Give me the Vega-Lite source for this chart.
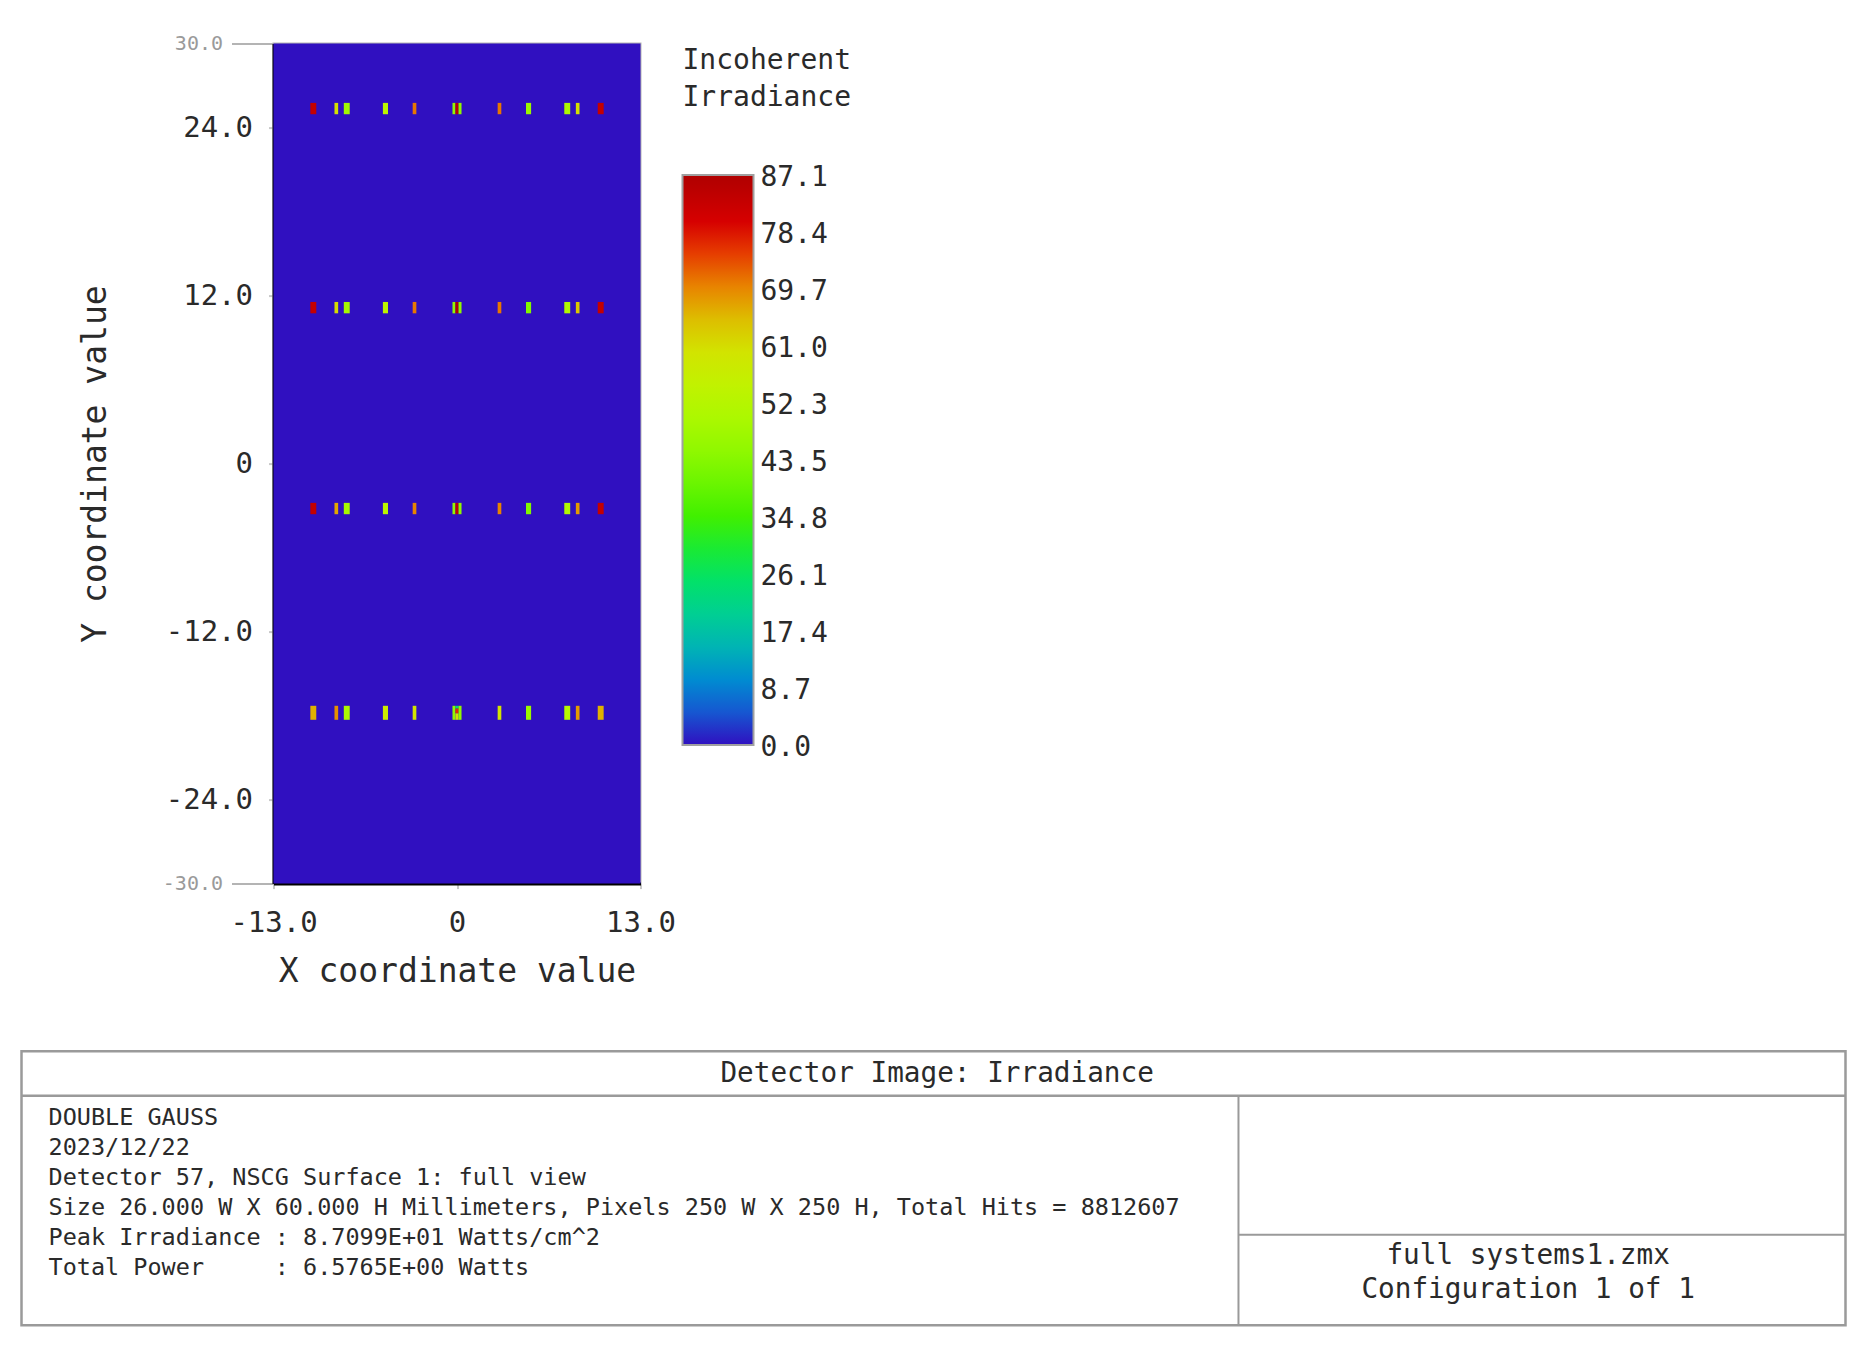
{
  "$schema": "https://vega.github.io/schema/vega-lite/v6.json",
  "background": "white",
  "padding": {"left": 18.5, "top": 32.6, "right": 10, "bottom": 10},
  "config": {"font": "DejaVu Sans Mono"},
  "spacing": 58.6,
  "resolve": {"legend": {"color": "independent"}},
  "vconcat": [
    {
      "spacing": 0,
      "resolve": {"legend": {"color": "independent"}},
      "hconcat": [
        {
          "width": 55.6,
          "height": 10,
          "view": {"stroke": null},
          "data": {"values": []},
          "mark": {"type": "point"}
        },
        {
          "width": 367,
          "height": 840,
          "view": {"stroke": "#b4b4b4", "strokeWidth": 2},
          "data": {"values": [
            {"x0": -13, "x1": 13, "y0": -30, "y1": 30, "irradiance": 0},
            {"x0": -10.39, "x1": -9.97, "y0": 24.955, "y1": 25.765, "irradiance": 83},
            {"x0": -8.68, "x1": -8.42, "y0": 24.955, "y1": 25.765, "irradiance": 61},
            {"x0": -8.02, "x1": -7.6, "y0": 24.955, "y1": 25.765, "irradiance": 48},
            {"x0": -5.25, "x1": -4.89, "y0": 24.955, "y1": 25.765, "irradiance": 53},
            {"x0": -3.14, "x1": -2.88, "y0": 24.955, "y1": 25.765, "irradiance": 71},
            {"x0": -0.32, "x1": -0.11, "y0": 24.955, "y1": 25.765, "irradiance": 45},
            {"x0": -0.11, "x1": 0.11, "y0": 24.955, "y1": 25.765, "irradiance": 85},
            {"x0": 0.11, "x1": 0.32, "y0": 24.955, "y1": 25.765, "irradiance": 45},
            {"x0": 2.88, "x1": 3.14, "y0": 24.955, "y1": 25.765, "irradiance": 71},
            {"x0": 4.89, "x1": 5.25, "y0": 24.955, "y1": 25.765, "irradiance": 47},
            {"x0": 7.6, "x1": 8.02, "y0": 24.955, "y1": 25.765, "irradiance": 50},
            {"x0": 8.42, "x1": 8.68, "y0": 24.955, "y1": 25.765, "irradiance": 61},
            {"x0": 9.97, "x1": 10.39, "y0": 24.955, "y1": 25.765, "irradiance": 83},
            {"x0": -10.39, "x1": -9.97, "y0": 10.735, "y1": 11.545, "irradiance": 83},
            {"x0": -8.68, "x1": -8.42, "y0": 10.735, "y1": 11.545, "irradiance": 62},
            {"x0": -8.02, "x1": -7.6, "y0": 10.735, "y1": 11.545, "irradiance": 49},
            {"x0": -5.25, "x1": -4.89, "y0": 10.735, "y1": 11.545, "irradiance": 54},
            {"x0": -3.14, "x1": -2.88, "y0": 10.735, "y1": 11.545, "irradiance": 71},
            {"x0": -0.32, "x1": -0.11, "y0": 10.735, "y1": 11.545, "irradiance": 45},
            {"x0": -0.11, "x1": 0.11, "y0": 10.735, "y1": 11.545, "irradiance": 87.1},
            {"x0": 0.11, "x1": 0.32, "y0": 10.735, "y1": 11.545, "irradiance": 45},
            {"x0": 2.88, "x1": 3.14, "y0": 10.735, "y1": 11.545, "irradiance": 71},
            {"x0": 4.89, "x1": 5.25, "y0": 10.735, "y1": 11.545, "irradiance": 43},
            {"x0": 7.6, "x1": 8.02, "y0": 10.735, "y1": 11.545, "irradiance": 51},
            {"x0": 8.42, "x1": 8.68, "y0": 10.735, "y1": 11.545, "irradiance": 64},
            {"x0": 9.97, "x1": 10.39, "y0": 10.735, "y1": 11.545, "irradiance": 83},
            {"x0": -10.39, "x1": -9.97, "y0": -3.615, "y1": -2.805, "irradiance": 83},
            {"x0": -8.68, "x1": -8.42, "y0": -3.615, "y1": -2.805, "irradiance": 67},
            {"x0": -8.02, "x1": -7.6, "y0": -3.615, "y1": -2.805, "irradiance": 49},
            {"x0": -5.25, "x1": -4.89, "y0": -3.615, "y1": -2.805, "irradiance": 53},
            {"x0": -3.14, "x1": -2.88, "y0": -3.615, "y1": -2.805, "irradiance": 70},
            {"x0": -0.32, "x1": -0.11, "y0": -3.615, "y1": -2.805, "irradiance": 45},
            {"x0": -0.11, "x1": 0.11, "y0": -3.615, "y1": -2.805, "irradiance": 84},
            {"x0": 0.11, "x1": 0.32, "y0": -3.615, "y1": -2.805, "irradiance": 45},
            {"x0": 2.88, "x1": 3.14, "y0": -3.615, "y1": -2.805, "irradiance": 70},
            {"x0": 4.89, "x1": 5.25, "y0": -3.615, "y1": -2.805, "irradiance": 43},
            {"x0": 7.6, "x1": 8.02, "y0": -3.615, "y1": -2.805, "irradiance": 51},
            {"x0": 8.42, "x1": 8.68, "y0": -3.615, "y1": -2.805, "irradiance": 68},
            {"x0": 9.97, "x1": 10.39, "y0": -3.615, "y1": -2.805, "irradiance": 83},
            {"x0": -10.39, "x1": -9.97, "y0": -18.3, "y1": -17.3, "irradiance": 66},
            {"x0": -8.68, "x1": -8.42, "y0": -18.3, "y1": -17.3, "irradiance": 69},
            {"x0": -8.02, "x1": -7.6, "y0": -18.3, "y1": -17.3, "irradiance": 50},
            {"x0": -5.25, "x1": -4.89, "y0": -18.3, "y1": -17.3, "irradiance": 58},
            {"x0": -3.14, "x1": -2.88, "y0": -18.3, "y1": -17.3, "irradiance": 60},
            {"x0": -0.32, "x1": -0.11, "y0": -18.3, "y1": -17.3, "irradiance": 45},
            {"x0": -0.11, "x1": 0.11, "y0": -17.5, "y1": -17.3, "irradiance": 25},
            {"x0": -0.11, "x1": 0.11, "y0": -17.84, "y1": -17.5, "irradiance": 76},
            {"x0": -0.11, "x1": 0.11, "y0": -18.3, "y1": -17.84, "irradiance": 60},
            {"x0": 0.11, "x1": 0.32, "y0": -18.3, "y1": -17.3, "irradiance": 45},
            {"x0": 2.88, "x1": 3.14, "y0": -18.3, "y1": -17.3, "irradiance": 60},
            {"x0": 4.89, "x1": 5.25, "y0": -18.3, "y1": -17.3, "irradiance": 47},
            {"x0": 7.6, "x1": 8.02, "y0": -18.3, "y1": -17.3, "irradiance": 52},
            {"x0": 8.42, "x1": 8.68, "y0": -18.3, "y1": -17.3, "irradiance": 68},
            {"x0": 9.97, "x1": 10.39, "y0": -18.3, "y1": -17.3, "irradiance": 66}
          ]},
          "mark": {"type": "rect"},
          "encoding": {
            "x": {
              "field": "x0", "type": "quantitative",
              "scale": {"domain": [-13, 13], "nice": false, "zero": false},
              "axis": {
                "values": [-13, 0, 13],
                "labelExpr": "datum.value == 0 ? '0' : (datum.value < 0 ? '-' : '') + format(abs(datum.value), '.1f')",
                "labelFont": "DejaVu Sans Mono", "labelFontSize": 29, "labelColor": "#2a2a2a",
                "labelFlush": false, "labelOverlap": false, "labelPadding": 20.4,
                "tickSize": 5, "tickColor": "#c8c8c8", "tickWidth": 2,
                "domainColor": "#000000", "domainWidth": 3, "grid": false,
                "title": "X coordinate value", "titleFont": "DejaVu Sans Mono", "titleFontSize": 33,
                "titleFontWeight": "normal", "titleColor": "#2a2a2a", "titlePadding": 18
              }
            },
            "x2": {"field": "x1"},
            "y": {
              "field": "y0", "type": "quantitative",
              "scale": {"domain": [-30, 30], "nice": false, "zero": false},
              "axis": {
                "values": [-30, -24, -12, 0, 12, 24, 30],
                "labelExpr": "datum.value == 0 ? '0' : (datum.value < 0 ? '-' : '') + format(abs(datum.value), '.1f')",
                "labelFont": "DejaVu Sans Mono",
                "labelFontSize": {"condition": {"test": "abs(datum.value) == 30", "value": 20}, "value": 29},
                "labelColor": {"condition": {"test": "abs(datum.value) == 30", "value": "#9a9a9a"}, "value": "#2a2a2a"},
                "labelPadding": {"condition": {"test": "abs(datum.value) == 30", "value": 9}, "value": 16},
                "tickSize": {"condition": {"test": "abs(datum.value) == 30", "value": 42}, "value": 5},
                "tickColor": {"condition": {"test": "abs(datum.value) == 30", "value": "#b4b4b4"}, "value": "#c8c8c8"},
                "tickWidth": 2,
                "labelFlush": false, "labelOverlap": false,
                "domainColor": "#000000", "domainWidth": 3, "grid": false,
                "title": "Y coordinate value", "titleFont": "DejaVu Sans Mono", "titleFontSize": 33,
                "titleFontWeight": "normal", "titleColor": "#2a2a2a", "titlePadding": 50
              }
            },
            "y2": {"field": "y1"},
            "color": {
              "field": "irradiance", "type": "quantitative",
              "scale": {
                "domain": [0, 4.355, 8.71, 13.065, 18.29, 24.39, 28.74, 34.84, 43.55, 52.26, 59.23, 62.71, 66.2, 69.68, 74.03, 78.39, 83.62, 87.099],
                "range": ["#3010c0", "#1a50d0", "#0080d8", "#00a8c0", "#00c8a0", "#00e070", "#10e840", "#40f000", "#88f800", "#b8f800", "#d0e800", "#d8d800", "#e0b000", "#e88800", "#e85000", "#e00000", "#c00000", "#b00000"],
                "interpolate": "rgb"
              },
              "legend": {
                "title": ["Incoherent", "Irradiance"],
                "values": [0, 8.7099, 17.4198, 26.1297, 34.8396, 43.5495, 52.2594, 60.9693, 69.6792, 78.3891, 87.099],
                "format": ".1f",
                "orient": "right", "direction": "vertical", "offset": 42, "padding": 0,
                "gradientLength": 570, "gradientThickness": 71,
                "gradientStrokeColor": "#a0a0a0", "gradientStrokeWidth": 2,
                "labelFont": "DejaVu Sans Mono", "labelFontSize": 28, "labelColor": "#2a2a2a",
                "labelOffset": 7, "labelOverlap": false, "labelBaseline": "middle",
                "titleFont": "DejaVu Sans Mono", "titleFontSize": 28, "titleFontWeight": "normal",
                "titleColor": "#2a2a2a", "titleLineHeight": 37, "titlePadding": 66.4, "titleAnchor": "start",
                "encode": {
                  "labels": {"update": {"baseline": {"value": "middle"}, "dy": {"value": 3}}},
                  "title": {"update": {"dy": {"value": 3.6}}}
                }
              }
            }
          }
        }
      ]
    },
    {
      "width": 1824,
      "height": 274,
      "view": {"stroke": "#9a9a9a", "strokeWidth": 2.5},
      "data": {"values": [
        {"block": "header", "line": 0, "text": "Detector Image: Irradiance"},
        {"block": "info", "line": 1, "text": "DOUBLE GAUSS"},
        {"block": "info", "line": 2, "text": "2023/12/22"},
        {"block": "info", "line": 3, "text": "Detector 57, NSCG Surface 1: full view"},
        {"block": "info", "line": 4, "text": "Size 26.000 W X 60.000 H Millimeters, Pixels 250 W X 250 H, Total Hits = 8812607"},
        {"block": "info", "line": 5, "text": "Peak Irradiance : 8.7099E+01 Watts/cm^2"},
        {"block": "info", "line": 6, "text": "Total Power\u00a0\u00a0\u00a0\u00a0\u00a0: 6.5765E+00 Watts"},
        {"block": "file", "line": 1, "text": "full systems1.zmx"},
        {"block": "file", "line": 2, "text": "Configuration 1 of 1"}
      ]},
      "layer": [
        {
          "data": {"values": [{}]},
          "mark": {"type": "rule", "color": "#9a9a9a", "strokeWidth": 2.5},
          "encoding": {
            "y": {"datum": 0.383, "type": "quantitative", "scale": {"domain": [-1.1, 8.033], "reverse": true, "nice": false, "zero": false}, "axis": null}
          }
        },
        {
          "data": {"values": [{}]},
          "mark": {"type": "rule", "color": "#9a9a9a", "strokeWidth": 2},
          "encoding": {
            "x": {"datum": 66.72, "type": "quantitative", "scale": {"domain": [0, 100], "nice": false, "zero": false}, "axis": null},
            "y": {"datum": 0.383, "type": "quantitative", "scale": {"domain": [-1.1, 8.033], "reverse": true, "nice": false, "zero": false}, "axis": null},
            "y2": {"datum": 8.033}
          }
        },
        {
          "data": {"values": [{}]},
          "mark": {"type": "rule", "color": "#9a9a9a", "strokeWidth": 2},
          "encoding": {
            "x": {"datum": 66.72, "type": "quantitative", "scale": {"domain": [0, 100], "nice": false, "zero": false}, "axis": null},
            "x2": {"datum": 100},
            "y": {"datum": 5.017, "type": "quantitative", "scale": {"domain": [-1.1, 8.033], "reverse": true, "nice": false, "zero": false}, "axis": null}
          }
        },
        {
          "transform": [{"filter": "datum.block == 'header'"}],
          "mark": {"type": "text", "align": "center", "baseline": "middle", "dy": 2.4, "font": "DejaVu Sans Mono", "fontSize": 27.7, "color": "#2a2a2a"},
          "encoding": {
            "x": {"datum": 50.2, "type": "quantitative", "scale": {"domain": [0, 100], "nice": false, "zero": false}, "axis": null},
            "y": {"datum": -0.433, "type": "quantitative", "scale": {"domain": [-1.1, 8.033], "reverse": true, "nice": false, "zero": false}, "axis": null},
            "text": {"field": "text"}
          }
        },
        {
          "transform": [{"filter": "datum.block == 'info'"}],
          "mark": {"type": "text", "align": "left", "baseline": "middle", "dy": 3.7, "font": "DejaVu Sans Mono", "fontSize": 23.5, "color": "#2a2a2a"},
          "encoding": {
            "x": {"datum": 1.48, "type": "quantitative", "scale": {"domain": [0, 100], "nice": false, "zero": false}, "axis": null},
            "y": {"field": "line", "type": "quantitative", "scale": {"domain": [-1.1, 8.033], "reverse": true, "nice": false, "zero": false}, "axis": null},
            "text": {"field": "text"}
          }
        },
        {
          "transform": [{"filter": "datum.block == 'file' && datum.line == 1"}],
          "mark": {"type": "text", "align": "center", "baseline": "middle", "dy": 1.8, "font": "DejaVu Sans Mono", "fontSize": 27.7, "color": "#2a2a2a"},
          "encoding": {
            "x": {"datum": 82.6, "type": "quantitative", "scale": {"domain": [0, 100], "nice": false, "zero": false}, "axis": null},
            "y": {"datum": 5.667, "type": "quantitative", "scale": {"domain": [-1.1, 8.033], "reverse": true, "nice": false, "zero": false}, "axis": null},
            "text": {"field": "text"}
          }
        },
        {
          "transform": [{"filter": "datum.block == 'file' && datum.line == 2"}],
          "mark": {"type": "text", "align": "center", "baseline": "middle", "dy": 1.8, "font": "DejaVu Sans Mono", "fontSize": 27.7, "color": "#2a2a2a"},
          "encoding": {
            "x": {"datum": 82.6, "type": "quantitative", "scale": {"domain": [0, 100], "nice": false, "zero": false}, "axis": null},
            "y": {"datum": 6.8, "type": "quantitative", "scale": {"domain": [-1.1, 8.033], "reverse": true, "nice": false, "zero": false}, "axis": null},
            "text": {"field": "text"}
          }
        }
      ]
    }
  ]
}
